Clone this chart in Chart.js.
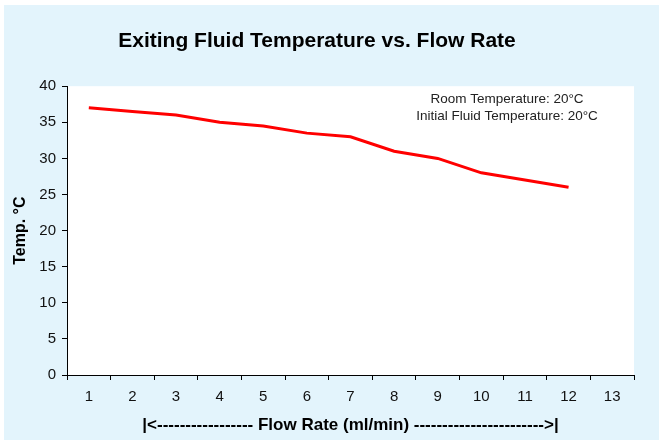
<!DOCTYPE html>
<html>
<head>
<meta charset="utf-8">
<script src="https://cdn.jsdelivr.net/npm/chart.js@4/dist/chart.umd.min.js"></script>
<style>
  html, body { margin: 0; padding: 0; background: #fff; }
  #wrap { width: 664px; height: 442px; }
</style>
</head>
<body>
<div id="wrap"><canvas id="tempChart" width="664" height="442"></canvas></div>
<script>
// chart data
const flowRates = ['1', '2', '3', '4', '5', '6', '7', '8', '9', '10', '11', '12', '13'];
const exitTemps = [37, 36.5, 36, 35, 34.5, 33.5, 33, 31, 30, 28, 27, 26, null];
const yTicks = [0, 5, 10, 15, 20, 25, 30, 35, 40];
const notes = ['Room Temperature: 20°C', 'Initial Fluid Temperature: 20°C'];

const FONT = "'Liberation Sans', Arial, sans-serif";

// light blue frame + white plot area
const backdrop = {
    id: 'backdrop',
    beforeDraw(chart) {
        const { ctx, chartArea } = chart;
        ctx.save();
        ctx.fillStyle = '#ffffff';
        ctx.fillRect(0, 0, chart.width, chart.height);
        ctx.fillStyle = '#e3f4fc';
        ctx.fillRect(4, 5, 655, 435);
        ctx.fillStyle = '#ffffff';
        ctx.fillRect(chartArea.left, chartArea.top, chartArea.right - chartArea.left, chartArea.bottom - chartArea.top);
        ctx.restore();
    }
};

// the two note lines in the upper right
const noteText = {
    id: 'noteText',
    afterDraw(chart) {
        const { ctx } = chart;
        ctx.save();
        ctx.font = '13.5px ' + FONT;
        ctx.fillStyle = '#222';
        ctx.textAlign = 'center';
        ctx.textBaseline = 'middle';
        notes.forEach((line, i) => ctx.fillText(line, 507, 99 + i * 17));
        ctx.restore();
    }
};

new Chart(document.getElementById('tempChart'), {
    type: 'line',
    data: {
        labels: flowRates,
        datasets: [{
            data: exitTemps,
            borderColor: '#ff0000',
            borderWidth: 3,
            pointRadius: 0,
            tension: 0,
            fill: false
        }]
    },
    options: {
        responsive: false,
        animation: false,
        layout: { padding: { left: 0, right: 30, top: 0, bottom: 0 } },
        plugins: {
            legend: { display: false },
            tooltip: { enabled: false },
            title: {
                display: true,
                text: 'Exiting Fluid Temperature vs. Flow Rate',
                color: '#000',
                font: { family: FONT, size: 21, weight: 'bold' },
                padding: { top: 29, bottom: 32 }
            }
        },
        scales: {
            x: {
                type: 'category',
                offset: true,
                afterFit(scale) { scale.height = 67; },
                grid: { offset: true, drawOnChartArea: false, drawTicks: true, tickLength: 5, color: '#000' },
                border: { display: true, color: '#000', width: 1 },
                ticks: { color: '#111', font: { family: FONT, size: 15 }, padding: 8, maxRotation: 0, autoSkip: false },
                title: {
                    display: true,
                    text: '|<----------------- Flow Rate (ml/min) ----------------------->|',
                    color: '#000',
                    font: { family: FONT, size: 17, weight: 'bold' },
                    padding: { top: 0, bottom: 6 }
                }
            },
            y: {
                min: 0,
                max: 40,
                afterFit(scale) { scale.width = 67; },
                afterBuildTicks(scale) { scale.ticks = yTicks.map(v => ({ value: v })); },
                grid: { drawOnChartArea: false, drawTicks: true, tickLength: 5, color: '#000' },
                border: { display: true, color: '#000', width: 1 },
                ticks: { color: '#111', font: { family: FONT, size: 15 }, padding: 6 },
                title: {
                    display: true,
                    text: 'Temp. °C',
                    color: '#000',
                    font: { family: FONT, size: 16, weight: 'bold' },
                    padding: { top: 11, bottom: 0 }
                }
            }
        }
    },
    plugins: [backdrop, noteText]
});
</script>
</body>
</html>
